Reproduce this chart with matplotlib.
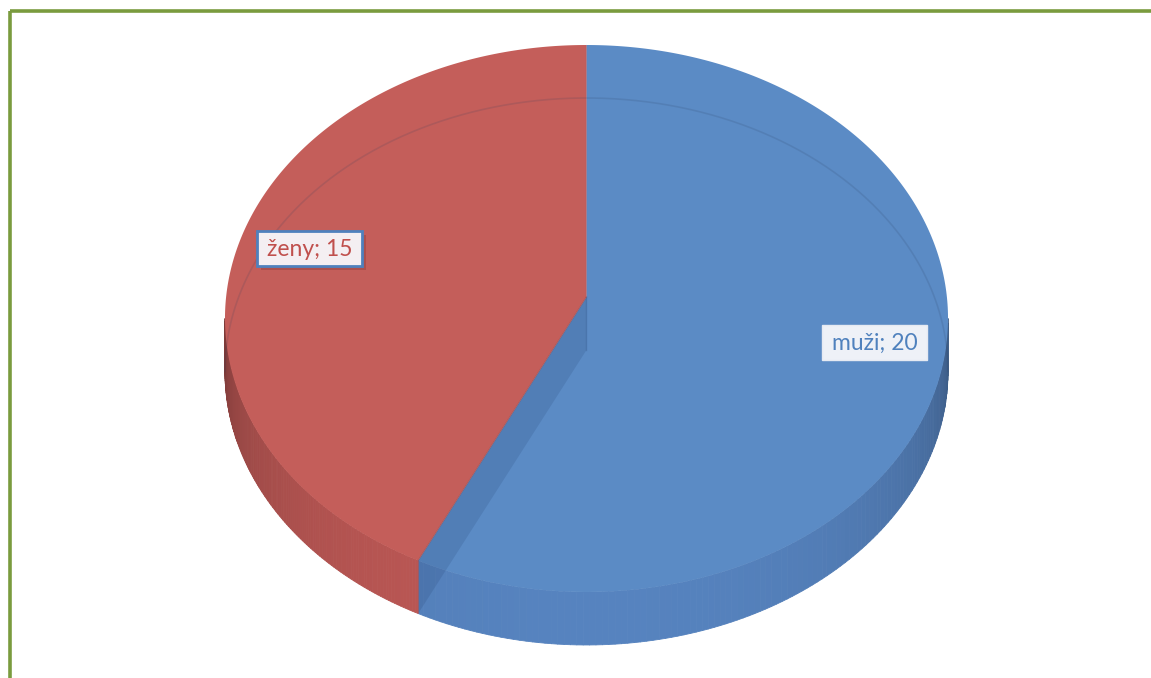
import numpy as np
import matplotlib.pyplot as plt
from matplotlib.patches import Polygon, Rectangle
from matplotlib.collections import PolyCollection
from matplotlib.colors import to_rgb

labels = ['muži', 'ženy']
values = [20, 15]
top_colors = ['#5B8BC5', '#C45E5A']
side_colors = ['#5683BF', '#BD5855']
text_colors = ['#4F81BD', '#C0504D']
label_pos = [(875, 342), (310, 248)]

W, H = 1151, 678
X0, Y0 = 586.5, 297.0      # projected centre of the disc
A, B, K = 360.4, 271.8, 0.0786
DEPTH = 53


def proj(alpha, r=1.0, dz=0.0):
    a = np.radians(alpha)
    u = r * np.sin(a)
    v = -r * np.cos(a)
    w = 1 - K * v
    return X0 + A * u / w, Y0 + B * v / w + dz


fig = plt.figure(figsize=(W / 100, H / 100), dpi=100)
ax = fig.add_axes([0, 0, 1, 1])
ax.set_xlim(0, W)
ax.set_ylim(H, 0)
ax.axis('off')

# green frame (only top and left edge inside the picture)
ax.plot([10, W], [10.5, 10.5], color='#7A9B3E', lw=2.6, solid_capstyle='butt')
ax.plot([10, 10], [10.5, H], color='#7A9B3E', lw=2.6, solid_capstyle='butt')

total = sum(values)
bounds = np.concatenate([[0], np.cumsum(values) / total * 360])
vis_lo = 90 + np.degrees(np.arcsin(K))
vis_hi = 270 - np.degrees(np.arcsin(K))

# side walls
for i in range(len(values)):
    lo, hi = max(bounds[i], vis_lo), min(bounds[i + 1], vis_hi)
    if lo >= hi:
        continue
    angs = np.linspace(lo, hi, 120)
    polys, cols = [], []
    base = np.array(to_rgb(side_colors[i]))
    for a1, a2 in zip(angs[:-1], angs[1:]):
        x1, y1 = proj(a1)
        x2, y2 = proj(a2)
        polys.append([(x1, y1), (x2, y2), (x2, y2 + DEPTH), (x1, y1 + DEPTH)])
        m = (a1 + a2) / 2
        s = 0.5 + 0.5 * max(-np.cos(np.radians(m)), 0) ** 0.45
        cols.append(np.clip(base * s, 0, 1))
    ax.add_collection(PolyCollection(polys, facecolors=cols, edgecolors=cols,
                                     linewidths=0.6, zorder=2))

# top faces
for i in range(len(values)):
    angs = np.linspace(bounds[i], bounds[i + 1], 300)
    xs, ys = proj(angs)
    pts = [(X0, Y0)] + list(zip(xs, ys))
    ax.add_patch(Polygon(pts, closed=True, facecolor=top_colors[i],
                         edgecolor='none', zorder=3))

# back outline of the bottom face, seen through the top
angs = np.linspace(vis_hi - 360, vis_lo, 300)
xs, ys = proj(angs, dz=DEPTH)
ax.plot(xs, ys, color='#2A3D60', alpha=0.15, lw=1.2, zorder=4)

# inner cut face of the blue slice seen through its top
ex, ey = proj(bounds[1])
band = [(X0, Y0), (ex, ey), (ex, ey + DEPTH), (X0, Y0 + DEPTH)]
ax.add_patch(Polygon(band, closed=True, facecolor='#1F3B6A', alpha=0.16,
                     edgecolor='none', zorder=4))
ax.plot([X0, ex], [Y0, ey], color='#8A4A55', lw=0.8, alpha=0.5, zorder=4)
ax.plot([X0, X0], [Y0, Y0 + DEPTH], color='#2A4A7A', lw=1, alpha=0.25, zorder=4)
tx, ty = proj(0)
ax.plot([X0, tx], [Y0, ty], color='#6A5A80', lw=0.8, alpha=0.3, zorder=4)

# data labels
box_w, box_h = 105, 35
for i in range(len(values)):
    x, y = label_pos[i]
    x0, y0 = x - box_w / 2, y - box_h / 2
    if i == 1:
        ax.add_patch(Rectangle((x0 + 4, y0 + 4), box_w, box_h, fc='#8A3A38',
                               ec='none', alpha=0.4, zorder=5))
        ax.add_patch(Rectangle((x0, y0), box_w, box_h, fc='#F4EFF2',
                               ec='#4F81BD', lw=2, zorder=5.5))
    else:
        ax.add_patch(Rectangle((x0, y0), box_w, box_h, fc='#EEF1F7',
                               ec='#E6EAF2', lw=1, zorder=5.5))
    ax.text(x, y + 1, f'{labels[i]}; {values[i]}', ha='center', va='center',
            fontsize=16.5, family='Lato', color=text_colors[i], zorder=6)

fig.savefig('out.png', dpi=100)
